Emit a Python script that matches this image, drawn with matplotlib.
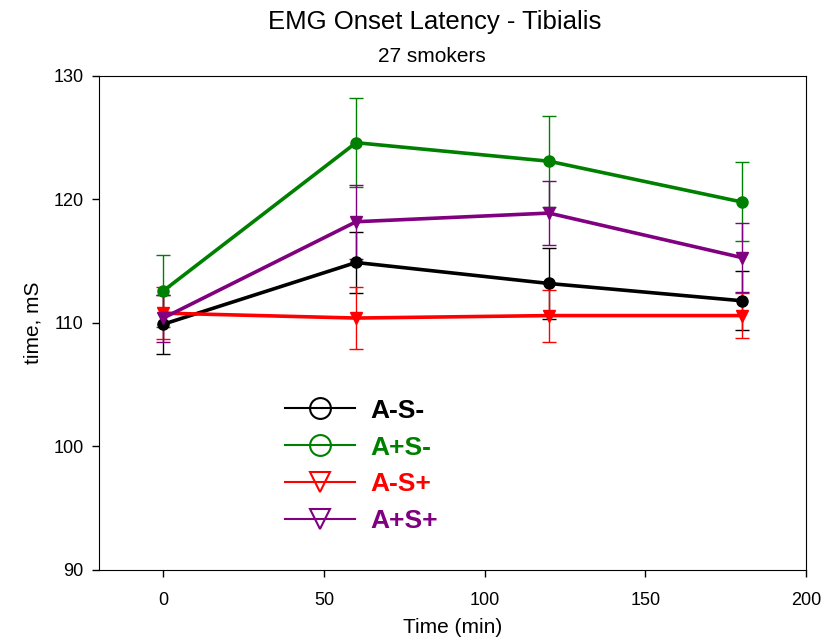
import matplotlib.pyplot as plt
from matplotlib.lines import Line2D

plt.rcParams['font.family'] = ['Liberation Sans', 'DejaVu Sans']

# data
time = [0, 60, 120, 180]
groups = ['A-S-', 'A+S-', 'A-S+', 'A+S+']
means = {
    'A-S-': [109.9, 114.9, 113.2, 111.8],
    'A+S-': [112.6, 124.6, 123.1, 119.8],
    'A-S+': [110.8, 110.4, 110.6, 110.6],
    'A+S+': [110.4, 118.2, 118.9, 115.3],
}
errs = {
    'A-S-': [2.4, 2.5, 2.9, 2.4],
    'A+S-': [2.9, 3.6, 3.7, 3.2],
    'A-S+': [2.1, 2.5, 2.1, 1.8],
    'A+S+': [1.9, 3.0, 2.6, 2.8],
}
colors = {'A-S-': 'black', 'A+S-': '#008000', 'A-S+': '#ff0000', 'A+S+': '#800080'}
markers = {'A-S-': 'o', 'A+S-': 'o', 'A-S+': 'v', 'A+S+': 'v'}

fig = plt.figure(figsize=(8.31, 6.43), dpi=100)
ax = fig.add_axes([99/831, 1 - 570/643, (806-99)/831, (570-76)/643])

for g in groups:
    ax.errorbar(time, means[g], yerr=errs[g], color=colors[g], marker=markers[g],
                markersize=8, linewidth=2.6, elinewidth=1, capsize=5, capthick=1)

ax.set_xlim(-20, 200)
ax.set_ylim(90, 130)
ax.set_xticks([0, 50, 100, 150, 200])
ax.set_yticks([90, 100, 110, 120, 130])
ax.tick_params(direction='out', length=5, width=1, labelsize=13)
ax.tick_params(axis='x', pad=11)
ax.tick_params(axis='y', pad=6)
ax.set_xlabel('Time (min)', fontsize=15, labelpad=6)
ax.set_ylabel('time, mS', fontsize=15, labelpad=8)

fig.text(435/831, 1 - 22/643, 'EMG Onset Latency - Tibialis', ha='center', va='center', fontsize=18.5)
fig.text(432/831, 1 - 56/643, '27 smokers', ha='center', va='center', fontsize=15)

handles = [Line2D([], [], color=colors[g], marker=markers[g], markerfacecolor='none',
                  markersize=15, markeredgewidth=1.5, linewidth=1.5) for g in groups]
leg = fig.legend(handles, groups, loc='center left', bbox_to_anchor=(285/831, 1 - 466/643),
                 frameon=False, handlelength=2.65, handletextpad=0.6, labelspacing=0.49,
                 borderpad=0, borderaxespad=0, prop={'weight': 'bold', 'size': 19})
for t, g in zip(leg.get_texts(), groups):
    t.set_color(colors[g])

fig.savefig('out.png', dpi=100)
